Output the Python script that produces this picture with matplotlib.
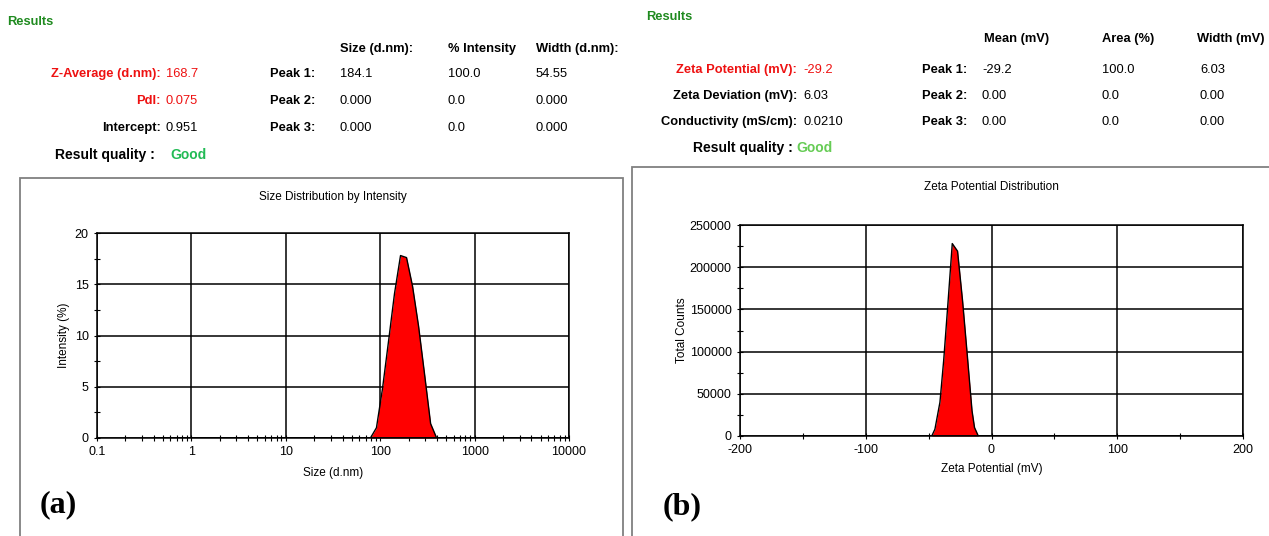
import matplotlib
matplotlib.use("Agg")
import matplotlib.pyplot as plt
from matplotlib.patches import Rectangle
from matplotlib.ticker import LogLocator, MultipleLocator, NullFormatter, FixedLocator

plt.rcParams['font.family'] = ['Liberation Sans', 'DejaVu Sans']
plt.rcParams['axes.unicode_minus'] = False

# size distribution (a)
size_nm = [0.4, 78.82, 91.28, 105.7, 122.4, 141.8, 164.2, 190.1, 220.2, 255.0, 295.3, 342.0, 396.1, 10000]
intensity_pct = [0, 0, 1.0, 4.8, 9.4, 14.1, 17.8, 17.6, 14.8, 10.9, 6.2, 1.4, 0, 0]

# zeta potential distribution (b)
zeta_mv = [-150, -47.5, -45.0, -41.0, -38.0, -34.5, -31.2, -27.0, -23.0, -19.5, -15.5, -13.5, -10.5, 150]
total_counts = [0, 0, 8000, 40000, 90000, 160000, 228000, 219000, 160000, 100000, 30000, 10000, 0, 0]

size_header = ["Size (d.nm):", "% Intensity", "Width (d.nm):"]
size_rows = [["184.1", "100.0", "54.55"], ["0.000", "0.0", "0.000"], ["0.000", "0.0", "0.000"]]
zeta_header = ["Mean (mV)", "Area (%)", "Width (mV)"]
zeta_rows = [["-29.2", "100.0", "6.03"], ["0.00", "0.0", "0.00"], ["0.00", "0.0", "0.00"]]

W, H = 1269, 536
RED = "#ee1111"
DGREEN = "#1f8a1f"

fig = plt.figure(figsize=(W / 100, H / 100), dpi=100)
fig.patch.set_facecolor("white")


def px(x, y):
    return x / W, 1 - y / H


def txt(x, y, s, **kw):
    kw.setdefault("fontsize", 9.3)
    kw.setdefault("va", "center")
    fig.text(*px(x, y), s, **kw)


# ---- left results table
txt(7, 22, "Results", color=DGREEN, weight="bold")
for x, h in zip([340, 448, 536], size_header):
    txt(x, 49, h, weight="bold")
left_labels = [("Z-Average (d.nm):", "168.7", RED), ("PdI:", "0.075", RED), ("Intercept:", "0.951", "black")]
for i, (lab, val, c) in enumerate(left_labels):
    y = 74 + 27 * i
    txt(161, y, lab, ha="right", weight="bold", color=c)
    txt(166, y, val, color=c)
    txt(315, y, f"Peak {i + 1}:", ha="right", weight="bold")
    for x, v in zip([340, 448, 536], size_rows[i]):
        txt(x, y, v)
txt(155, 155, "Result quality :", ha="right", weight="bold", fontsize=10)
txt(170, 155, "Good", color="#22bb55", weight="bold", fontsize=10)

# ---- right results table
txt(646, 17, "Results", color=DGREEN, weight="bold")
for x, h in zip([984, 1102, 1197], zeta_header):
    txt(x, 39, h, weight="bold")
right_labels = [("Zeta Potential (mV):", "-29.2", RED), ("Zeta Deviation (mV):", "6.03", "black"),
                ("Conductivity (mS/cm):", "0.0210", "black")]
for i, (lab, val, c) in enumerate(right_labels):
    y = 70 + 26 * i
    txt(797, y, lab, ha="right", weight="bold", color=c)
    txt(803, y, val, color=c)
    txt(967, y, f"Peak {i + 1}:", ha="right", weight="bold")
    for x, v in zip([982, 1102, 1200], zeta_rows[i]):
        txt(x, y, v)
txt(793, 148, "Result quality :", ha="right", weight="bold", fontsize=10)
txt(796, 148, "Good", color="#66cc55", weight="bold", fontsize=10)

# ---- panel frames
fig.add_artist(Rectangle(px(20, 545), 603 / W, 367 / H, transform=fig.transFigure,
                         fill=False, edgecolor="#808080", lw=1.3))
fig.add_artist(Rectangle(px(632, 545), 660 / W, 378 / H, transform=fig.transFigure,
                         fill=False, edgecolor="#808080", lw=1.3))


def style(ax):
    ax.grid(True, which="major", color="black", lw=1.1)
    for s in ax.spines.values():
        s.set_linewidth(1.1)
    ax.tick_params(which="both", direction="inout", labelsize=9, width=0.8)
    ax.tick_params(which="major", length=5)
    ax.tick_params(which="minor", length=4)
    ax.set_axisbelow(True)


# ---- (a) size distribution
ax1 = fig.add_axes([97 / W, 1 - 438 / H, 472 / W, 205 / H])
ax1.set_xscale("log")
ax1.fill_between(size_nm, intensity_pct, color="#ff0000", lw=0)
ax1.plot(size_nm, intensity_pct, color="black", lw=1.0)
ax1.plot([size_nm[0], size_nm[-1]], [0, 0], color="black", lw=2)
ax1.set_xlim(0.1, 10000)
ax1.set_ylim(0, 20)
ax1.xaxis.set_major_locator(FixedLocator([0.1, 1, 10, 100, 1000, 10000]))
ax1.set_xticklabels(["0.1", "1", "10", "100", "1000", "10000"])
ax1.xaxis.set_minor_locator(LogLocator(base=10, subs=range(2, 10), numticks=20))
ax1.xaxis.set_minor_formatter(NullFormatter())
ax1.yaxis.set_major_locator(MultipleLocator(5))
ax1.yaxis.set_minor_locator(MultipleLocator(2.5))
style(ax1)
ax1.set_title("Size Distribution by Intensity", fontsize=8.5, pad=24)
ax1.set_xlabel("Size (d.nm)", fontsize=8.5, labelpad=6)
ax1.set_ylabel("Intensity (%)", fontsize=8.5, labelpad=3)
txt(58, 505, "(a)", family="Liberation Serif", weight="bold", fontsize=23, ha="center")

# ---- (b) zeta potential distribution
ax2 = fig.add_axes([740 / W, 1 - 436 / H, 503 / W, 211 / H])
ax2.fill_between(zeta_mv, total_counts, color="#ff0000", lw=0)
ax2.plot(zeta_mv, total_counts, color="black", lw=1.0)
ax2.plot([zeta_mv[0], zeta_mv[-1]], [0, 0], color="black", lw=1.8)
ax2.set_xlim(-200, 200)
ax2.set_ylim(0, 250000)
ax2.xaxis.set_major_locator(MultipleLocator(100))
ax2.xaxis.set_minor_locator(MultipleLocator(50))
ax2.yaxis.set_major_locator(MultipleLocator(50000))
ax2.yaxis.set_minor_locator(MultipleLocator(25000))
style(ax2)
ax2.set_title("Zeta Potential Distribution", fontsize=8.5, pad=25)
ax2.set_xlabel("Zeta Potential (mV)", fontsize=8.5, labelpad=5)
ax2.set_ylabel("Total Counts", fontsize=8.5, labelpad=1)
txt(682, 507, "(b)", family="Liberation Serif", weight="bold", fontsize=23, ha="center")

fig.savefig("out.png", dpi=100)
